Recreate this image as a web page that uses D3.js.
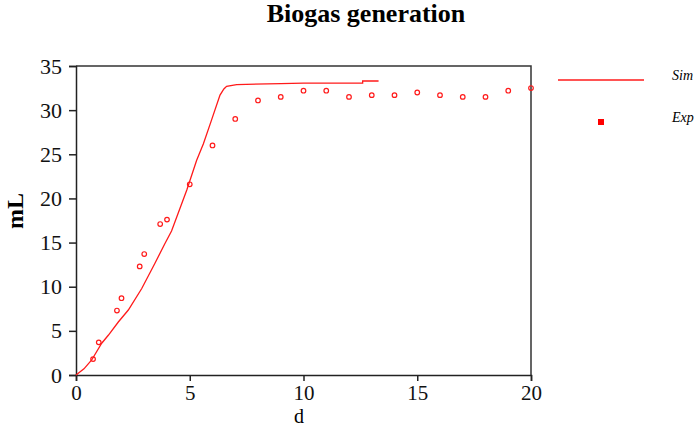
<!DOCTYPE html>
<html><head><meta charset="utf-8">
<script src="https://cdn.jsdelivr.net/npm/d3@7"></script>
<style>body{margin:0;background:#fff}svg{display:block}</style>
</head><body><svg id="c" width="699" height="428"></svg>
<script>
const simX = [0, 0.35, 0.69, 1.13, 1.42, 1.86, 2.3, 2.89, 3.47, 3.91, 4.2, 4.87, 5.3, 5.6, 5.96, 6.33, 6.5, 6.62, 7.06, 9.0, 10.0, 12.6, 12.6, 13.3];
const simY = [0, 0.7, 1.7, 3.6, 4.5, 6.0, 7.36, 9.8, 12.65, 14.9, 16.3, 20.95, 24.3, 26.2, 28.9, 31.7, 32.4, 32.7, 32.9, 33.0, 33.05, 33.05, 33.3, 33.3];
const expX = [0.75, 1, 1.8, 2, 2.8, 3, 3.7, 4, 5, 6, 7, 8, 9, 10, 11, 12, 13, 14, 15, 16, 17, 18, 19, 20];
const expY = [1.8, 3.7, 7.3, 8.7, 12.3, 13.7, 17.1, 17.6, 21.6, 26.0, 29.0, 31.1, 31.5, 32.2, 32.2, 31.5, 31.7, 31.7, 32.0, 31.7, 31.5, 31.5, 32.2, 32.5];
const xTicks = [0, 5, 10, 15, 20];
const yTicks = [0, 5, 10, 15, 20, 25, 30, 35];
const legendLabels = ["Sim", "Exp"];

const svg = d3.select("#c");
const L = 76, R = 531, T = 66, B = 375;
const x = d3.scaleLinear().domain([0, 20]).range([L, R]);
const y = d3.scaleLinear().domain([0, 35]).range([B, T]);
const serif = "'Liberation Serif','Times New Roman',serif";

svg.append("text").attr("x", 366).attr("y", 22).attr("text-anchor", "middle")
  .attr("font-family", serif).attr("font-weight", "bold").attr("font-size", 26).text("Biogas generation");

svg.append("path").attr("d", `M${L},${T}H${R}V${B}`).attr("fill", "none").attr("stroke", "#333").attr("stroke-width", 1.5);

const xa = svg.append("g").attr("transform", `translate(0,${B})`)
  .call(d3.axisBottom(x).tickValues(xTicks).tickSize(6).tickPadding(4).tickFormat(d3.format("d")));
const ya = svg.append("g").attr("transform", `translate(${L},0)`)
  .call(d3.axisLeft(y).tickValues(yTicks).tickSize(7).tickPadding(7).tickFormat(d3.format("d")));
[xa, ya].forEach(g => {
  g.select(".domain").attr("stroke", "#222").attr("stroke-width", 1.5);
  g.selectAll(".tick line").attr("stroke", "#222").attr("stroke-width", 1.5);
  g.selectAll("text").attr("font-family", serif).attr("fill", "#111");
});
xa.selectAll("text").attr("font-size", 21);
ya.selectAll("text").attr("font-size", 22);

svg.append("text").attr("x", 299).attr("y", 423).attr("text-anchor", "middle")
  .attr("font-family", serif).attr("font-size", 20).text("d");
svg.append("text").attr("transform", "translate(23,211) rotate(-90)").attr("text-anchor", "middle")
  .attr("font-family", serif).attr("font-weight", "bold").attr("font-size", 24).text("mL");

const sim = simX.map((v, i) => [v, simY[i]]);
svg.append("path").datum(sim).attr("fill", "none").attr("stroke", "#ff1a1a").attr("stroke-width", 1.3)
  .attr("d", d3.line().x(d => x(d[0])).y(d => y(d[1])));

svg.append("g").selectAll("circle").data(expX.map((v, i) => [v, expY[i]])).join("circle")
  .attr("cx", d => x(d[0])).attr("cy", d => y(d[1])).attr("r", 2.3)
  .attr("fill", "none").attr("stroke", "#ff1a1a").attr("stroke-width", 1.2);

svg.append("line").attr("x1", 558).attr("x2", 644).attr("y1", 80).attr("y2", 80).attr("stroke", "#ff1a1a").attr("stroke-width", 1.3);
svg.append("rect").attr("x", 598).attr("y", 119).attr("width", 6).attr("height", 6).attr("fill", "#ff0000");
svg.selectAll(".lg").data(legendLabels).join("text").attr("class", "lg")
  .attr("x", 672).attr("y", (d, i) => 80 + i * 42).attr("font-family", serif).attr("font-style", "italic")
  .attr("font-size", 14).text(d => d);
</script></body></html>
